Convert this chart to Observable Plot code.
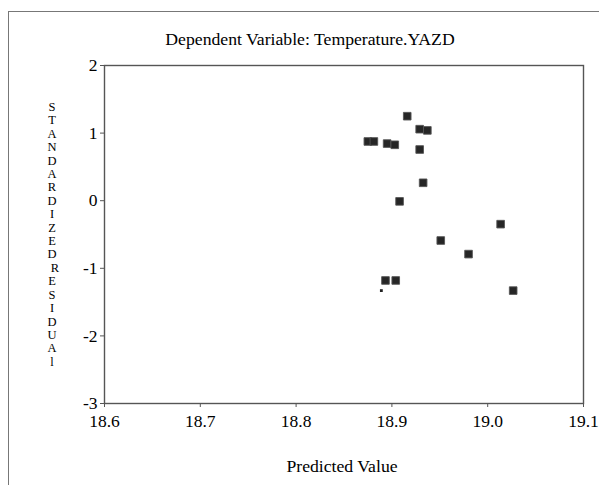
<!DOCTYPE html>
<html>
<head>
<meta charset="utf-8">
<script src="https://cdn.jsdelivr.net/npm/d3@7"></script>
<script src="https://cdn.jsdelivr.net/npm/@observablehq/plot@0.6"></script>
<style>
  html, body { margin: 0; padding: 0; background: #fff; }
  #wrap { position: relative; width: 599px; height: 485px; overflow: hidden; font-family: "Liberation Serif", "Times New Roman", "DejaVu Serif", serif; }
  #border { position: absolute; left: 8px; top: 11px; width: 700px; height: 600px; border-left: 1.5px solid #777; border-top: 1.5px solid #777; }
  #title { position: absolute; left: 0; width: 620px; top: 29px; text-align: center; font-size: 17.7px; color: #000; }
  #xlabel { position: absolute; left: 0; width: 684px; top: 456px; text-align: center; font-size: 17.7px; color: #000; }
  #ylabel { position: absolute; left: 45px; top: 101px; width: 14px; font-size: 12.5px; line-height: 13.4px; text-align: center; color: #000; }
  #ylabel div { color: #000; }
  #chart { position: absolute; left: 0; top: 0; }
</style>
</head>
<body>
<div id="wrap">
  <div id="border"></div>
  <div id="chart"></div>
  <div id="title"></div>
  <div id="xlabel"></div>
  <div id="ylabel"></div>
</div>
<script>
const titleText = "Dependent Variable: Temperature.YAZD";
const xLabelText = "Predicted Value";
const yLabelText = "STANDARDIZED RESIDUAl";
const xTicks = [18.6, 18.7, 18.8, 18.9, 19.0, 19.1];
const yTicks = [-3, -2, -1, 0, 1, 2];

const predicted = [18.8749, 18.8812, 18.895, 18.903, 18.916, 18.929, 18.937, 18.929, 18.9326, 18.908, 18.951, 18.8933, 18.904, 19.0135, 18.98, 19.0266];
const residual  = [0.876, 0.876, 0.845, 0.827, 1.25, 1.058, 1.04, 0.757, 0.265, -0.01, -0.589, -1.18, -1.18, -0.347, -0.79, -1.33];
// partly drawn marker
const predictedPartial = [18.889];
const residualPartial = [-1.33];

const points = predicted.map((p, i) => ({x: p, y: residual[i]}));
const partial = predictedPartial.map((p, i) => ({x: p, y: residualPartial[i]}));

document.getElementById("title").textContent = titleText;
document.getElementById("xlabel").textContent = xLabelText;
const yl = document.getElementById("ylabel");
yLabelText.split("").forEach(ch => {
  const d = document.createElement("div");
  d.textContent = ch;
  if (ch === " ") d.style.display = "none";
  yl.appendChild(d);
});
{
  const idx = yLabelText.indexOf(" ");
  const el = yl.children[idx + 1];
  if (el) el.style.transform = "translateX(3px)";
}

const fmtY = d => d < 0 ? "-" + Math.abs(d) : String(d);
const chart = Plot.plot({
  width: 599,
  height: 485,
  marginLeft: 104,
  marginRight: 16,
  marginTop: 65,
  marginBottom: 82,
  style: { fontFamily: '"Liberation Serif", "Times New Roman", "DejaVu Serif", serif', fontSize: "17.5px", background: "transparent", color: "#000" },
  x: { domain: [18.6, 19.1], label: null },
  y: { domain: [-3, 2], label: null },
  marks: [
    Plot.frame({ stroke: "#555", strokeWidth: 1.4 }),
    Plot.axisX({ ticks: xTicks, tickFormat: d3.format(".1f"), tickSize: 4, tickPadding: 7, stroke: "#555", fill: "#000", fontSize: 17.5, label: null }),
    Plot.axisY({ ticks: yTicks, tickFormat: fmtY, tickSize: 4, tickPadding: 3, stroke: "#555", fill: "#000", fontSize: 17.5, label: null }),
    Plot.dot(points, { x: "x", y: "y", symbol: "square", r: 4.3, fill: "#262626", stroke: "#555", strokeWidth: 0.9, strokeLinejoin: "round" }),
    Plot.dot(partial, { x: "x", y: "y", symbol: "square", r: 1.6, fill: "#222" })
  ]
});
document.getElementById("chart").appendChild(chart);
</script>
</body>
</html>
